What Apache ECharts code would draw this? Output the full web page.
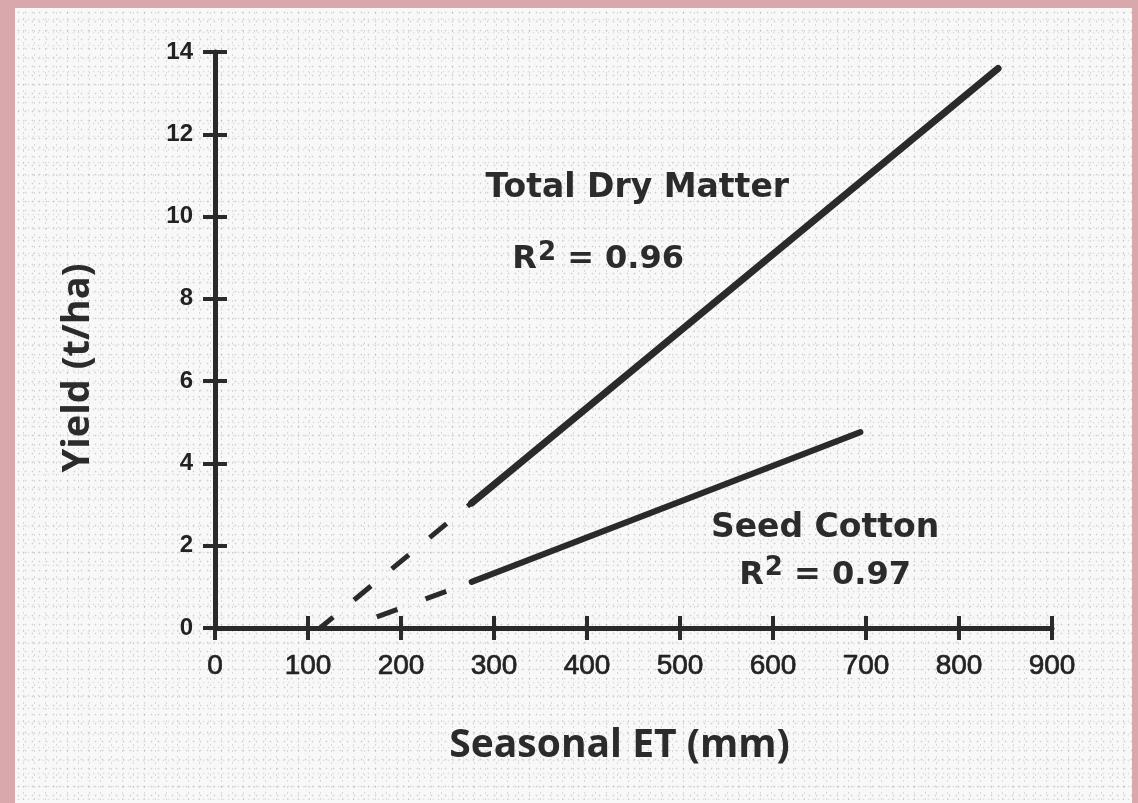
<!DOCTYPE html>
<html><head><meta charset="utf-8">
<script src="https://cdn.jsdelivr.net/npm/echarts@6/dist/echarts.min.js"></script>
<style>
html,body{margin:0;padding:0;width:1138px;height:803px;background:#d9a8ad;overflow:hidden;}
#panel{position:absolute;left:15px;top:8px;width:1117px;height:795px;background-color:#f8f8f8;
  background-image:
    radial-gradient(circle, rgba(150,150,150,0.40) 0.8px, transparent 1.1px),
    radial-gradient(circle, rgba(160,160,160,0.35) 0.8px, transparent 1.1px),
    radial-gradient(circle, rgba(170,170,170,0.30) 0.8px, transparent 1.1px);
  background-size: 7px 9px, 11px 6px, 5px 13px;
  background-position: 0 0, 3px 2px, 1px 5px;}
#chart{width:1117px;height:795px;}
</style></head><body>
<div id="panel"><div id="chart"></div></div>
<script>
// ---- data ----
const xTickValues = [0, 100, 200, 300, 400, 500, 600, 700, 800, 900];
const yTickValues = [0, 2, 4, 6, 8, 10, 12, 14];
const xTitle = 'Seasonal ET (mm)';
const yTitle = 'Yield (t/ha)';
const dryMatterDashed = [[113, 0.0], [276, 3.04]];
const dryMatterSolid = [[276, 3.04], [842, 13.6]];
const seedCottonDashed = [[174, 0.27], [276, 1.12]];
const seedCottonSolid = [[276, 1.12], [694, 4.76]];
const labelNames = ['Total Dry Matter', 'R2 = 0.96', 'Seed Cotton', 'R2 = 0.97'];
const labelAnchors = [[454, 10.69], [412, 8.95], [656, 2.43], [656, 1.27]];

// ---- chart ----
const ink = '#2a2a2a';
const textInk = '#2b2b2b';
const chart = echarts.init(document.getElementById('chart'));
const xMin = xTickValues[0], xMax = xTickValues[xTickValues.length - 1];
const yMin = yTickValues[0], yMax = yTickValues[yTickValues.length - 1];
const xStep = xTickValues[1] - xTickValues[0];
const yStep = yTickValues[1] - yTickValues[0];
const annFont = 'DejaVu Sans';

function fmtLabel(s) {
  if (s.startsWith('R2')) {
    return '{r|R}{s|2}{r|' + s.slice(2) + '}';
  }
  return '{t|' + s + '}';
}

const annData = labelNames.map((n, i) => ({ value: labelAnchors[i], name: n }));

chart.setOption({
  animation: false,
  backgroundColor: 'transparent',
  grid: { left: 200, right: 80, top: 44, bottom: 175, containLabel: false },
  xAxis: [{
    type: 'value', min: xMin, max: xMax, interval: xStep, position: 'bottom',
    axisLine: { show: true, onZero: false, lineStyle: { color: ink, width: 5 } },
    axisTick: { show: true, inside: false, length: 12, lineStyle: { color: ink, width: 4 } },
    axisLabel: { color: '#222', fontFamily: 'Liberation Sans', fontSize: 28, margin: 24,
      textBorderColor: '#222', textBorderWidth: 0.7 },
    splitLine: { show: false },
    name: xTitle, nameLocation: 'middle', nameGap: 98,
    nameTextStyle: { color: textInk, fontFamily: 'Open Sans', fontWeight: 'bold', fontSize: 39, padding: [0, 28, 0, 0] }
  }, {
    type: 'value', min: xMin, max: xMax, interval: xStep, position: 'bottom', offset: 0,
    axisLine: { show: false },
    axisTick: { show: true, inside: true, length: 12, lineStyle: { color: ink, width: 4 } },
    axisLabel: { show: false }, splitLine: { show: false }
  }],
  yAxis: [{
    type: 'value', min: yMin, max: yMax, interval: yStep, position: 'left',
    axisLine: { show: true, onZero: false, lineStyle: { color: ink, width: 5 } },
    axisTick: { show: true, inside: false, length: 12, lineStyle: { color: ink, width: 4 } },
    axisLabel: { color: '#222', fontFamily: 'Liberation Sans', fontWeight: 'bold', fontSize: 24, margin: 22 },
    splitLine: { show: false },
    name: yTitle, nameLocation: 'middle', nameGap: 118, nameRotate: 90,
    nameTextStyle: { color: textInk, fontFamily: 'Open Sans', fontWeight: 'bold', fontSize: 38, padding: [0, 56, 0, 0] }
  }, {
    type: 'value', min: yMin, max: yMax, interval: yStep, position: 'left', offset: 0,
    axisLine: { show: false },
    axisTick: { show: true, inside: true, length: 12, lineStyle: { color: ink, width: 4 } },
    axisLabel: { show: false }, splitLine: { show: false }
  }],
  series: [
    { type: 'line', name: 'Total Dry Matter (extrapolated)', data: dryMatterDashed, showSymbol: false, silent: true,
      lineStyle: { color: ink, width: 5, type: [22, 27], dashOffset: 5, cap: 'butt' } },
    { type: 'line', name: 'Total Dry Matter', data: dryMatterSolid, showSymbol: false, silent: true,
      lineStyle: { color: ink, width: 7, cap: 'round' } },
    { type: 'line', name: 'Seed Cotton (extrapolated)', data: seedCottonDashed, showSymbol: false, silent: true,
      lineStyle: { color: ink, width: 5, type: [22, 30], dashOffset: 0, cap: 'butt' } },
    { type: 'line', name: 'Seed Cotton', data: seedCottonSolid, showSymbol: false, silent: true,
      lineStyle: { color: ink, width: 6, cap: 'round' } },
    { type: 'scatter', name: 'labels', data: annData, symbolSize: 1, silent: true,
      itemStyle: { color: 'rgba(0,0,0,0)', opacity: 1 },
      label: {
        show: true, position: 'inside', opacity: 1,
        formatter: p => fmtLabel(p.name),
        rich: {
          t: { fontFamily: annFont, fontWeight: 'bold', fontSize: 33, color: textInk },
          r: { fontFamily: annFont, fontWeight: 'bold', fontSize: 32, color: textInk },
          s: { fontFamily: annFont, fontWeight: 'bold', fontSize: 26, color: textInk, padding: [0, 0, 14, 1] }
        }
      } }
  ]
});
</script>
</body></html>
